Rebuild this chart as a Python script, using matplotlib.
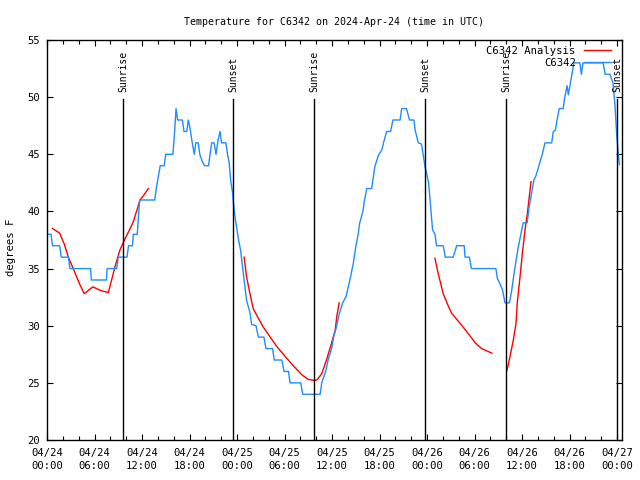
import numpy as np
import matplotlib
matplotlib.use("Agg")
import matplotlib.pyplot as plt
from matplotlib.ticker import MultipleLocator, FixedLocator

plt.rcParams['font.family'] = ['DejaVu Sans Mono']

# hours since 2024-04-24 00:00 UTC
obs_hours = [0.1, 0.5, 0.7, 1.6, 1.8, 2.7, 2.9, 5.5, 5.6, 7.5, 7.6, 8.8, 9.0, 10.1, 10.3, 10.8, 10.9, 11.4,
             11.7, 13.6, 13.85, 14.1, 14.3, 14.8, 15.0, 15.9, 16.1, 16.3, 16.4, 16.5, 17.1, 17.3, 17.65, 17.85,
             18.06, 18.3, 18.6, 18.8, 19.1, 19.3, 19.6, 19.9, 20.4, 20.6, 20.8, 21.1, 21.35, 21.6, 21.85, 22.05,
             22.6, 22.8, 23.0, 23.2, 23.45, 23.55, 23.75, 23.95, 24.2, 24.45, 24.8, 25.0, 25.2, 25.65, 25.85,
             26.4, 26.7, 27.4, 27.65, 28.5, 28.7, 29.65, 29.95, 30.5, 30.7, 32.05, 32.3, 34.5, 34.7, 35.2, 35.5,
             35.95, 36.2, 36.6, 36.9, 37.35, 37.8, 38.05, 38.35, 38.7, 39.0, 39.3, 39.5, 39.9, 40.1, 40.4, 41.0,
             41.2, 41.4, 41.85, 42.3, 42.5, 42.9, 43.4, 43.7, 44.6, 44.8, 45.4, 45.8, 46.35, 46.5, 46.9, 47.3,
             47.55, 47.75, 47.95, 48.2, 48.45, 48.7, 49.0, 49.2, 50.05, 50.3, 51.3, 51.75, 52.7, 52.8, 53.35,
             53.6, 56.7, 56.9, 57.2, 57.55, 57.85, 58.4, 58.7, 59.0, 59.2, 59.5, 59.8, 60.15, 60.65, 60.9, 61.2,
             61.5, 61.75, 62.05, 62.35, 62.6, 62.9, 63.75, 63.95, 64.2, 64.45, 64.7, 65.2, 65.4, 65.7, 65.85,
             66.05, 66.3, 66.55, 67.3, 67.5, 67.7, 70.25, 70.5, 71.1, 71.5, 71.75, 71.95, 72.15, 72.3]
obs_temps = [38, 38, 37, 37, 36, 36, 35, 35, 34, 34, 35, 35, 36, 36, 37, 37, 38, 38,
             41, 41, 42.2, 43.2, 44, 44, 45, 45, 46.8, 49, 48.5, 48, 48, 47, 47, 48,
             47.3, 46.2, 45, 46, 46, 45, 44.4, 44, 44, 45, 46, 46, 45, 46.2, 47, 46,
             46, 45, 44.3, 42.7, 41.6, 40.7, 39.5, 38.6, 37.5, 36.6, 34.6, 33.4, 32.25, 31.1, 30.1,
             30, 29, 29, 28, 28, 27, 27, 26, 26, 25, 25, 24, 24, 25, 26, 27,
             28, 29, 30, 31, 32, 32.6, 33.4, 34.3, 35.5, 36.9, 38, 39, 40, 41, 42, 42,
             42.9, 43.9, 44.9, 45.4, 46, 47, 47, 48, 48, 49, 49, 48, 48, 47.1, 46, 45.9,
             44.8, 43.9, 43.3, 42.5, 40.4, 38.4, 38, 37, 37, 36, 36, 37, 37, 36, 36,
             35, 35, 34.1, 33.7, 33.1, 32, 32, 33.1, 34.6, 35.5, 36.8, 37.8, 39, 39, 40.4, 41.6,
             42.75, 43.1, 43.8, 44.5, 45.1, 46, 46, 47, 47.1, 48.1, 49, 49, 50, 51, 50.2,
             51, 52, 53, 53, 52, 53, 53, 52, 52, 51.2, 49.2, 46.8, 45.1, 44.1]

# analysis (NaN separates runs)
ana_hours = [0.7, 1.6, 2.15, 2.7, 3.55, 4.15, 4.7, 5.8, 6.7, 7.75, 8.6, 9.2, 9.85, 10.5, 10.9, 11.35, 11.75, 12.2, 12.8,
             np.nan,
             24.9, 25.2, 25.55, 25.85, 26.05, 26.7, 27.3, 28.2, 29.0, 30.1, 31.1, 32.2, 33.0, 33.85, 34.15, 34.7,
             35.3, 35.95, 36.4, 36.6, 36.9,
             np.nan,
             49.0, 49.4, 50.05, 50.7, 51.1, 51.95, 53.0, 54.1, 54.9, 56.2,
             np.nan,
             58.1, 58.48, 58.9, 59.24, 59.4, 59.75, 60.04, 60.38, 60.67, 60.92, 61.13]
ana_temps = [38.5, 38.1, 37.2, 36.0, 34.6, 33.6, 32.8, 33.4, 33.1, 32.9, 35.2, 36.6, 37.6, 38.5, 39.1, 40.1, 41.0, 41.4, 42.0,
             np.nan,
             36.0, 34.3, 33.1, 32.1, 31.5, 30.65, 29.9, 29.0, 28.2, 27.3, 26.5, 25.7, 25.3, 25.2, 25.3, 25.8,
             27.0, 28.5, 29.6, 30.8, 32.0,
             np.nan,
             35.9, 34.6, 32.8, 31.7, 31.1, 30.4, 29.5, 28.5, 28.0, 27.6,
             np.nan,
             26.1, 27.3, 28.75, 30.2, 32.0, 34.3, 36.3, 38.4, 39.8, 41.3, 42.6]

event_hours = [9.64, 23.54, 33.77, 47.8, 58.0, 72.05]
event_names = ["Sunrise", "Sunset", "Sunrise", "Sunset", "Sunrise", "Sunset"]

tick_hours = list(range(0, 73, 6))
tick_labels = ["04/24\n00:00", "04/24\n06:00", "04/24\n12:00", "04/24\n18:00",
               "04/25\n00:00", "04/25\n06:00", "04/25\n12:00", "04/25\n18:00",
               "04/26\n00:00", "04/26\n06:00", "04/26\n12:00", "04/26\n18:00",
               "04/27\n00:00"]
y_ticks = [20, 25, 30, 35, 40, 45, 50, 55]

FS = 7.6
fig = plt.figure(figsize=(6.4, 4.8), dpi=100)
ax = fig.add_axes([47/640, 1-440/480, (621.7-47)/640, 400/480])

ax.plot(ana_hours, ana_temps, color='#FF0000', lw=1.0, label='C6342 Analysis')
ax.plot(obs_hours, obs_temps, color='#1E8CFF', lw=1.0, label='C6342')

for h, name in zip(event_hours, event_names):
    ax.plot([h, h], [20, 49.8], color='black', lw=1.0)
    ax.text(h, 50.45, name, rotation=90, ha='center', va='bottom', fontsize=7.0)

ax.set_xlim(0, 72.59)
ax.set_ylim(20, 55)
ax.xaxis.set_major_locator(FixedLocator(tick_hours))
ax.set_xticklabels(tick_labels, fontsize=FS, linespacing=1.35)
ax.xaxis.set_minor_locator(MultipleLocator(2))
ax.set_yticks(y_ticks)
ax.set_yticklabels([str(v) for v in y_ticks], fontsize=FS)
ax.tick_params(which='both', direction='in', top=True, right=True, width=0.8)
ax.tick_params(axis='x', which='major', length=4, pad=6)
ax.tick_params(axis='y', which='major', length=4, pad=5)
ax.tick_params(which='minor', length=3)
for s in ax.spines.values():
    s.set_linewidth(1.0)

ax.set_title("Temperature for C6342 on 2024-Apr-24 (time in UTC)", fontsize=7.2, pad=11)
fig.text(11/640, 1-247/480, "degrees F", rotation=90, ha='center', va='center', fontsize=FS)

leg = ax.legend(loc='upper right', bbox_to_anchor=(611/640, 1-46/480), bbox_transform=fig.transFigure,
                frameon=False, markerfirst=False, fontsize=FS, handlelength=2.6, handletextpad=0.75,
                labelspacing=0.15, borderpad=0, borderaxespad=0)

fig.savefig("out.png", dpi=100)
